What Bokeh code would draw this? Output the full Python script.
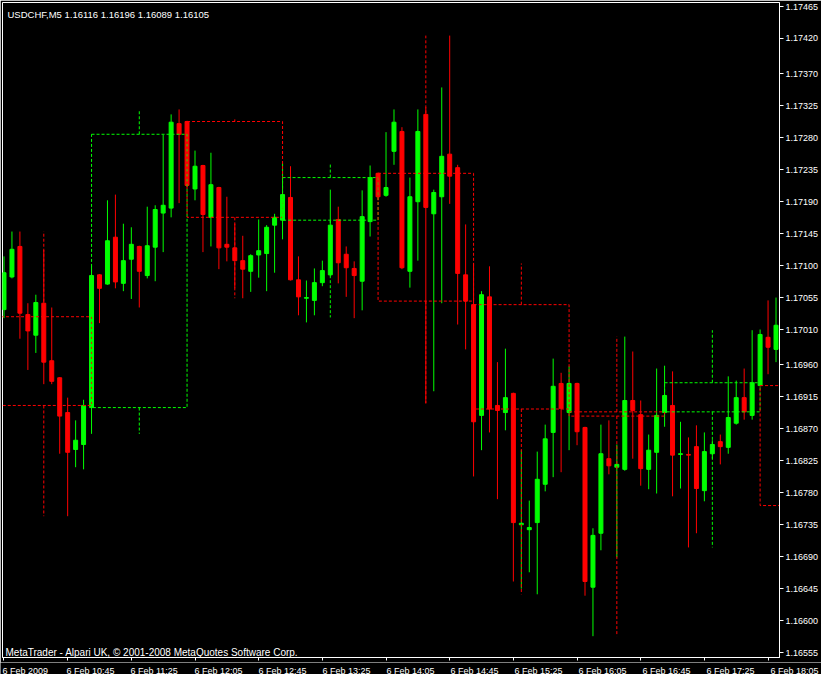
from bokeh.plotting import figure
from bokeh.models import Range1d, FixedTicker, PrintfTickFormatter, Label, ColumnDataSource
from bokeh.embed import file_html
from bokeh.resources import INLINE
from bokeh.core.properties import value

# ---------------- data (USDCHF, M5, 6 Feb 2009, first visible bar 10:05) ----------------
first_bar_minutes = 10 * 60 + 5
bar_minutes = 5

opens = [1.17038, 1.17084, 1.17127, 1.17031, 1.17002, 1.17047, 1.16966, 1.16942, 1.16893, 1.16841,
         1.16848, 1.16900, 1.17087, 1.17074, 1.17140, 1.17075, 1.17109, 1.17127, 1.17086, 1.17126,
         1.17174, 1.17181, 1.17300, 1.17303, 1.17208, 1.17241, 1.17168, 1.17210, 1.17130, 1.17125,
         1.17107, 1.17092, 1.17115, 1.17117, 1.17157, 1.17164, 1.17196, 1.17080, 1.17054, 1.17051,
         1.17076, 1.17087, 1.17165, 1.17116, 1.17096, 1.17078, 1.17162, 1.17230, 1.17199, 1.17261,
         1.17289, 1.17092, 1.17190, 1.17313, 1.17173, 1.17197, 1.17257, 1.17238, 1.17087, 1.17045,
         1.16889, 1.17056, 1.16903, 1.16893, 1.16920, 1.16735, 1.16728, 1.16738, 1.16792, 1.16865,
         1.16934, 1.16893, 1.16934, 1.16872, 1.16647, 1.16723, 1.16828, 1.16816, 1.16813, 1.16910,
         1.16890, 1.16813, 1.16837, 1.16893, 1.16903, 1.16834, 1.16834, 1.16845, 1.16783, 1.16835,
         1.16852, 1.16844, 1.16878, 1.16914, 1.16889, 1.16931, 1.16999, 1.16982]
highs = [1.17113, 1.17148, 1.17148, 1.17047, 1.17059, 1.17122, 1.17041, 1.16943, 1.16914, 1.16882,
         1.16911, 1.17100, 1.17088, 1.17192, 1.17200, 1.17159, 1.17154, 1.17128, 1.17183, 1.17185,
         1.17284, 1.17313, 1.17320, 1.17304, 1.17262, 1.17242, 1.17259, 1.17211, 1.17197, 1.17159,
         1.17142, 1.17116, 1.17165, 1.17157, 1.17173, 1.17245, 1.17240, 1.17113, 1.17079, 1.17096,
         1.17107, 1.17207, 1.17183, 1.17127, 1.17106, 1.17206, 1.17241, 1.17231, 1.17288, 1.17320,
         1.17295, 1.17224, 1.17320, 1.17323, 1.17207, 1.17351, 1.17424, 1.17242, 1.17158, 1.17103,
         1.17064, 1.17099, 1.16964, 1.16983, 1.16921, 1.16840, 1.16769, 1.16838, 1.16876, 1.16969,
         1.16949, 1.16958, 1.16935, 1.16873, 1.16730, 1.16876, 1.16882, 1.16848, 1.17000, 1.16979,
         1.16910, 1.16862, 1.16955, 1.16959, 1.16951, 1.16880, 1.16858, 1.16875, 1.16865, 1.16854,
         1.16862, 1.16944, 1.16938, 1.16955, 1.17009, 1.17010, 1.17051, 1.17055]
lows = [1.17026, 1.17082, 1.16997, 1.16953, 1.16977, 1.16933, 1.16933, 1.16835, 1.16747, 1.16816,
        1.16813, 1.16863, 1.17019, 1.17073, 1.17068, 1.17064, 1.17053, 1.17041, 1.17082, 1.17078,
        1.17119, 1.17168, 1.17188, 1.17211, 1.17192, 1.17119, 1.17127, 1.17095, 1.17106, 1.17068,
        1.17054, 1.17063, 1.17083, 1.17064, 1.17090, 1.17137, 1.17079, 1.17030, 1.17020, 1.17030,
        1.17071, 1.17085, 1.17075, 1.17056, 1.17026, 1.17037, 1.17141, 1.17192, 1.17197, 1.17242,
        1.17095, 1.17069, 1.17107, 1.16906, 1.16923, 1.17047, 1.17187, 1.17017, 1.16982, 1.16803,
        1.16840, 1.16865, 1.16771, 1.16868, 1.16655, 1.16645, 1.16668, 1.16637, 1.16782, 1.16802,
        1.16809, 1.16840, 1.16847, 1.16635, 1.16578, 1.16699, 1.16806, 1.16689, 1.16811, 1.16828,
        1.16790, 1.16785, 1.16779, 1.16873, 1.16775, 1.16786, 1.16703, 1.16723, 1.16768, 1.16828,
        1.16820, 1.16835, 1.16876, 1.16883, 1.16883, 1.16930, 1.16947, 1.16964]
closes = [1.17090, 1.17123, 1.17033, 1.17008, 1.17048, 1.16964, 1.16937, 1.16888, 1.16837, 1.16854,
          1.16903, 1.17086, 1.17068, 1.17135, 1.17077, 1.17107, 1.17130, 1.17092, 1.17128, 1.17179,
          1.17185, 1.17302, 1.17285, 1.17213, 1.17240, 1.17172, 1.17214, 1.17125, 1.17126, 1.17107,
          1.17095, 1.17114, 1.17121, 1.17154, 1.17168, 1.17200, 1.17080, 1.17056, 1.17055, 1.17076,
          1.17093, 1.17157, 1.17104, 1.17097, 1.17086, 1.17169, 1.17224, 1.17197, 1.17210, 1.17302,
          1.17097, 1.17197, 1.17289, 1.17182, 1.17203, 1.17254, 1.17226, 1.17089, 1.17050, 1.16880,
          1.17059, 1.16898, 1.16896, 1.16914, 1.16738, 1.16737, 1.16731, 1.16799, 1.16856, 1.16930,
          1.16899, 1.16934, 1.16866, 1.16655, 1.16720, 1.16835, 1.16818, 1.16820, 1.16910, 1.16896,
          1.16814, 1.16840, 1.16889, 1.16917, 1.16833, 1.16835, 1.16833, 1.16786, 1.16838, 1.16848,
          1.16845, 1.16886, 1.16914, 1.16894, 1.16935, 1.17003, 1.16985, 1.17016]

# hourly (H1) candles overlaid as dashed boxes
h1_hours = [10, 11, 12, 13, 14, 15, 16, 17, 18]
h1_open = [1.17028, 1.16900, 1.17303, 1.17164, 1.17230, 1.17045, 1.16894, 1.16894, 1.16931]
h1_high = [1.17148, 1.17320, 1.17306, 1.17245, 1.17424, 1.17103, 1.17000, 1.17009, 1.17055]
h1_low = [1.16747, 1.16863, 1.17054, 1.17027, 1.16906, 1.16637, 1.16578, 1.16703, 1.16700]
h1_close = [1.16903, 1.17285, 1.17168, 1.17224, 1.17050, 1.16898, 1.16888, 1.16935, 1.16762]

x_tick_bars = [0, 8, 16, 24, 32, 40, 48, 56, 64, 72, 80, 88, 96]
x_tick_labels = ["6 Feb 2009", "6 Feb 10:45", "6 Feb 11:25", "6 Feb 12:05", "6 Feb 12:45",
                 "6 Feb 13:25", "6 Feb 14:05", "6 Feb 14:45", "6 Feb 15:25", "6 Feb 16:05",
                 "6 Feb 16:45", "6 Feb 17:25", "6 Feb 18:05"]
price_ticks = [1.16555, 1.16600, 1.16645, 1.16690, 1.16735, 1.16780, 1.16825, 1.16870, 1.16915,
               1.16960, 1.17010, 1.17055, 1.17100, 1.17145, 1.17190, 1.17235, 1.17280, 1.17325,
               1.17370, 1.17420, 1.17465]

title_text = "USDCHF,M5  1.16116 1.16196 1.16089 1.16105"
footer_text = "MetaTrader - Alpari UK, \u00a9 2001-2008 MetaQuotes Software Corp."

# ---------------- styling / layout ----------------
GREEN = "#00ff00"
RED = "#ff0000"
FONT = "Liberation Sans"
W, H = 821, 674
MAIN_H = 662                      # main chart; the date strip fills the rest
FRAME_L, FRAME_T, FRAME_R, FRAME_B = 2, 2, 783, 657
BAR_PX = 8.0
FIRST_BAR_PX = 3.5
TOP_TICK_PX, BOT_TICK_PX = 6.0, 652.0
DATE_BASELINE_PX = 670
per_px = (price_ticks[-1] - price_ticks[0]) / (BOT_TICK_PX - TOP_TICK_PX)
y_top = price_ticks[-1] + (TOP_TICK_PX - FRAME_T) * per_px
y_bot = price_ticks[0] - (FRAME_B - BOT_TICK_PX) * per_px
x_left = (FRAME_L - FIRST_BAR_PX) / BAR_PX
x_right = (FRAME_R - FIRST_BAR_PX) / BAR_PX


def ypx(py):
    return y_top - (py - FRAME_T) * per_px


def xpx(px):
    return (px - FIRST_BAR_PX) / BAR_PX


n = len(opens)
xs = list(range(n))
colors = [GREEN if c >= o else RED for o, c in zip(opens, closes)]
src = ColumnDataSource(dict(
    x=xs, high=highs, low=lows,
    top=[max(o, c) for o, c in zip(opens, closes)],
    bottom=[min(o, c) for o, c in zip(opens, closes)],
    color=colors,
))

h1_start = [(h * 60 - first_bar_minutes) / bar_minutes for h in h1_hours]
bars_per_hour = 60 / bar_minutes
h1_src = ColumnDataSource(dict(
    left=h1_start,
    right=[s + bars_per_hour for s in h1_start],
    mid=[s + bars_per_hour / 2 for s in h1_start],
    top=[max(o, c) for o, c in zip(h1_open, h1_close)],
    bottom=[min(o, c) for o, c in zip(h1_open, h1_close)],
    high=h1_high, low=h1_low,
    color=[GREEN if c >= o else RED for o, c in zip(h1_open, h1_close)],
))

p = figure(width=W, height=MAIN_H, output_backend="svg", toolbar_location=None,
           x_range=Range1d(x_left, x_right), y_range=Range1d(y_bot, y_top),
           y_axis_location="right",
           min_border_left=FRAME_L, min_border_top=FRAME_T,
           min_border_right=W - FRAME_R, min_border_bottom=MAIN_H - FRAME_B,
           background_fill_color="black", border_fill_color="black",
           outline_line_color="white")
p.styles = {"position": "absolute", "left": "0px", "top": "0px"}
p.grid.visible = False

# x axis: tick marks at the labelled bars (texts are in the strip below)
xa = p.xaxis[0]
xa.ticker = FixedTicker(ticks=x_tick_bars)
xa.axis_line_color = "white"
xa.major_tick_line_color = "white"
xa.major_tick_out = 3
xa.major_tick_in = 0
xa.minor_tick_line_color = None
xa.major_label_text_color = None
xa.major_label_text_font_size = "1px"
xa.major_label_standoff = 0

ya = p.yaxis[0]
ya.ticker = FixedTicker(ticks=price_ticks)
ya.formatter = PrintfTickFormatter(format="%.5f")
ya.axis_line_color = "white"
ya.major_tick_line_color = "white"
ya.major_tick_out = 4
ya.major_tick_in = 0
ya.minor_tick_line_color = None
ya.major_label_text_color = "white"
ya.major_label_text_font = FONT
ya.major_label_text_font_size = "9px"
ya.major_label_standoff = 2

# candles
p.segment(x0="x", y0="low", x1="x", y1="high", line_color="color", line_width=1, source=src)
p.vbar(x="x", width=0.5, top="top", bottom="bottom", fill_color="color",
       line_color="color", line_width=1, source=src)

# hourly overlay (dashed)
p.quad(left="left", right="right", top="top", bottom="bottom", fill_color=None,
       line_color="color", line_dash="3 2", line_width=1, source=h1_src)
p.segment(x0="mid", y0="top", x1="mid", y1="high", line_color="color",
          line_dash="3 2", line_width=1, source=h1_src)
p.segment(x0="mid", y0="bottom", x1="mid", y1="low", line_color="color",
          line_dash="3 2", line_width=1, source=h1_src)

p.add_layout(Label(x=xpx(7), y=ypx(14), text=title_text, text_color="white",
                   text_font=FONT, text_font_size="9.5px", text_baseline="alphabetic"))
p.add_layout(Label(x=xpx(5), y=ypx(651.5), text=footer_text, text_color="white",
                   text_font=FONT, text_font_size="10px", text_baseline="alphabetic"))

# ---------------- date strip: same bar scale, full window width ----------------
STRIP_H = H - MAIN_H
strip = figure(width=W, height=STRIP_H, output_backend="svg", toolbar_location=None,
               x_range=Range1d(xpx(0), xpx(W)), y_range=Range1d(0, STRIP_H),
               x_axis_location=None, y_axis_location=None,
               min_border=0, min_border_left=0, min_border_right=0,
               min_border_top=0, min_border_bottom=0,
               background_fill_color="black", border_fill_color="black",
               outline_line_color=None)
strip.styles = {"position": "absolute", "left": "0px", "top": f"{MAIN_H}px"}
strip.grid.visible = False
date_src = ColumnDataSource(dict(x=x_tick_bars,
                                 y=[STRIP_H - (DATE_BASELINE_PX - MAIN_H)] * len(x_tick_bars),
                                 text=x_tick_labels))
strip.text(x="x", y="y", text="text", source=date_src, x_offset=-1.5,
           text_align="left", text_baseline="alphabetic", text_color="white",
           text_font=value(FONT), text_font_size=value("9px"))

open("out.html", "w").write(file_html([p, strip], INLINE))
